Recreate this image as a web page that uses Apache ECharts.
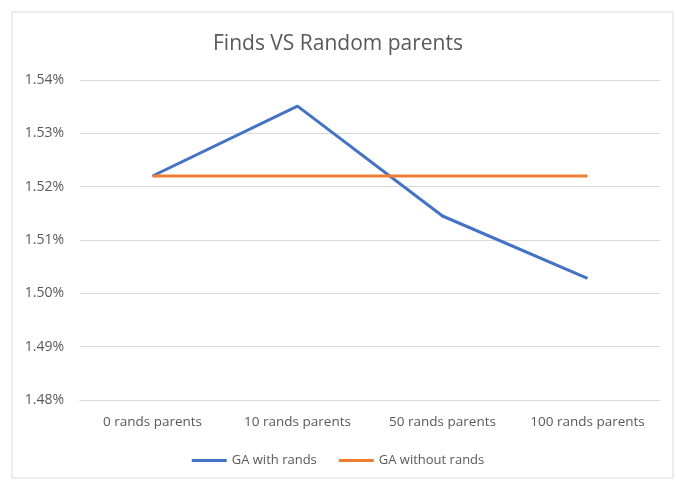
<!DOCTYPE html>
<html>
<head>
<meta charset="utf-8">
<script src="https://cdn.jsdelivr.net/npm/echarts@6/dist/echarts.min.js"></script>
<style>
  html, body { margin: 0; padding: 0; background: #fff; }
  #main { width: 676px; height: 481px; }
</style>
</head>
<body>
<div id="main"></div>
<script>
// data (values in %)
var categories = ['0 rands parents', '10 rands parents', '50 rands parents', '100 rands parents'];
var withRands = [1.522, 1.5351, 1.5145, 1.5028];
var withoutRands = [1.522, 1.522, 1.522, 1.522];

var grey = '#595959';
var chart = echarts.init(document.getElementById('main'));

chart.setOption({
  backgroundColor: '#fff',
  animation: false,
  textStyle: { fontFamily: 'Open Sans' },
  graphic: [{
    type: 'rect',
    shape: { x: 12, y: 12, width: 661, height: 466 },
    style: { fill: 'none', stroke: '#d9d9d9', lineWidth: 1 },
    silent: true
  }],
  title: {
    text: 'Finds VS Random parents',
    left: 'center',
    top: 29,
    textStyle: { color: grey, fontSize: 21, fontWeight: 'normal', fontFamily: 'Open Sans' }
  },
  legend: {
    top: 449,
    left: 'center',
    itemWidth: 35,
    itemHeight: 3,
    itemGap: 22,
    icon: 'rect',
    textStyle: { color: grey, fontSize: 13, fontFamily: 'Open Sans' },
    data: ['GA with rands', 'GA without rands']
  },
  grid: { left: 80, right: 16, top: 80, bottom: 81 },
  xAxis: {
    type: 'category',
    data: categories,
    boundaryGap: true,
    axisLine: { lineStyle: { color: '#d9d9d9', width: 1 } },
    axisTick: { show: false },
    axisLabel: { color: grey, fontSize: 13.5, margin: 15, interval: 0, hideOverlap: false }
  },
  yAxis: {
    type: 'value',
    min: 1.48,
    max: 1.54,
    interval: 0.01,
    axisLine: { show: false },
    axisTick: { show: false },
    axisLabel: {
      color: grey,
      fontSize: 14,
      margin: 16,
      formatter: function (v) { return v.toFixed(2) + '%'; }
    },
    splitLine: { lineStyle: { color: '#d9d9d9', width: 1 } }
  },
  series: [
    {
      name: 'GA with rands',
      type: 'line',
      data: withRands,
      showSymbol: false,
      symbol: 'none',
      lineStyle: { color: '#4472C4', width: 3 },
      itemStyle: { color: '#4472C4' }
    },
    {
      name: 'GA without rands',
      type: 'line',
      data: withoutRands,
      showSymbol: false,
      symbol: 'none',
      lineStyle: { color: '#ED7D31', width: 3 },
      itemStyle: { color: '#ED7D31' }
    }
  ]
});
</script>
</body>
</html>
